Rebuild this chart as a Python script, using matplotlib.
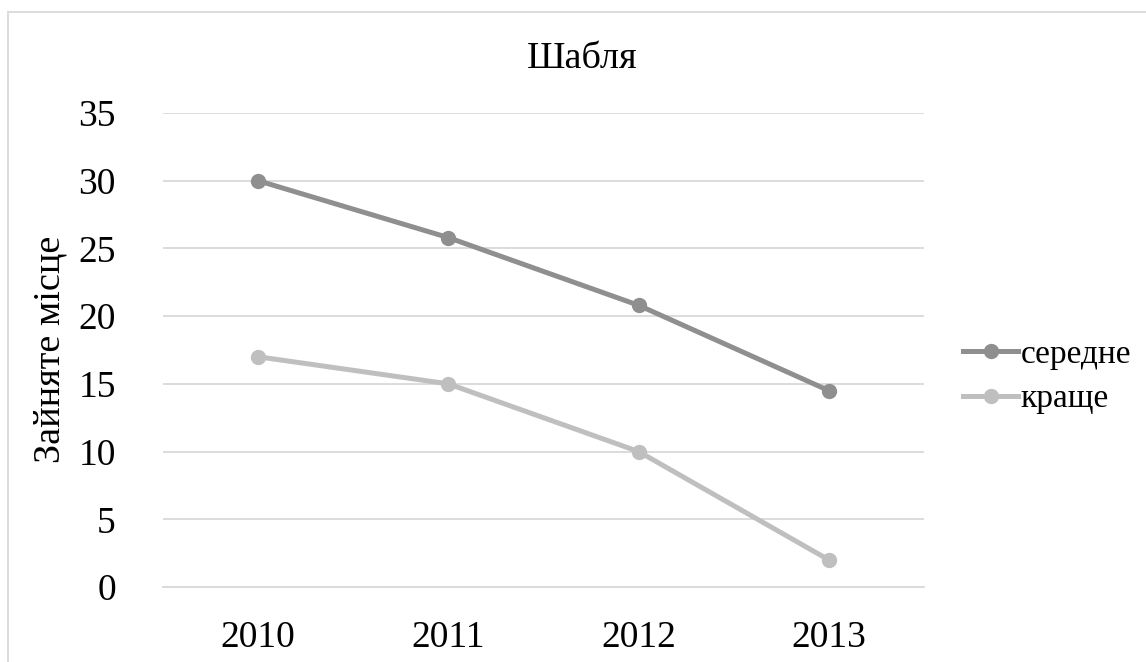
import matplotlib
matplotlib.use("Agg")
import matplotlib.pyplot as plt
from matplotlib.patches import Rectangle
from matplotlib.lines import Line2D

years = ["2010", "2011", "2012", "2013"]
serednie = [30, 25.8, 20.8, 14.5]
kraschche = [17, 15, 10, 2]
series_names = ["середне", "краще"]
y_ticks = [0, 5, 10, 15, 20, 25, 30, 35]

plt.rcParams["font.family"] = ["Liberation Serif", "DejaVu Serif"]

W, H = 1146, 662
fig = plt.figure(figsize=(W / 100, H / 100), dpi=100)
fig.patch.set_facecolor("white")

# chart area outline
fig.patches.append(Rectangle((8 / W, -0.1), 1.2, (H - 12) / H + 0.1,
                             transform=fig.transFigure, fill=False,
                             edgecolor="#d9d9d9", linewidth=1.3))

ax = fig.add_axes([163 / W, (H - 587) / H, 761 / W, 474 / H])
x = list(range(len(years)))
c_dark = "#8f8f8f"
c_light = "#bfbfbf"
ax.plot(x, serednie, color=c_dark, lw=3.6, marker="o", ms=10,
        solid_capstyle="round", zorder=3)
ax.plot(x, kraschche, color=c_light, lw=3.6, marker="o", ms=10,
        solid_capstyle="round", zorder=3)

ax.set_xlim(-0.5, len(years) - 0.5)
ax.set_ylim(0, 35)
ax.set_yticks(y_ticks)
ax.set_xticks(x)
ax.set_xticklabels(years)
ax.tick_params(axis="both", length=0, labelsize=27)
ax.tick_params(axis="y", pad=34)
ax.tick_params(axis="x", pad=24)
ax.grid(axis="y", color="#d9d9d9", linewidth=1.3)
ax.set_axisbelow(True)
for side in ["top", "right", "left"]:
    ax.spines[side].set_visible(False)
ax.spines["bottom"].set_color("#d9d9d9")
ax.spines["bottom"].set_linewidth(1.3)

fig.text(582 / W, 1 - 59 / H, "Шабля", fontsize=27.5,
         ha="center", va="center")
fig.text(50 / W, 1 - 349 / H, "Зайняте місце", rotation=90, fontsize=27.5,
         ha="center", va="center")

handles = [
    Line2D([], [], color=c_dark, lw=3.6, marker="o", ms=10),
    Line2D([], [], color=c_light, lw=3.6, marker="o", ms=10),
]
fig.legend(handles, series_names, loc="center left",
           bbox_to_anchor=(963 / W, 1 - 377 / H), frameon=False,
           fontsize=24, handlelength=1.65, handletextpad=0.08,
           labelspacing=0.42, borderpad=0, borderaxespad=0)

fig.savefig("out.png", dpi=100, facecolor="white")
